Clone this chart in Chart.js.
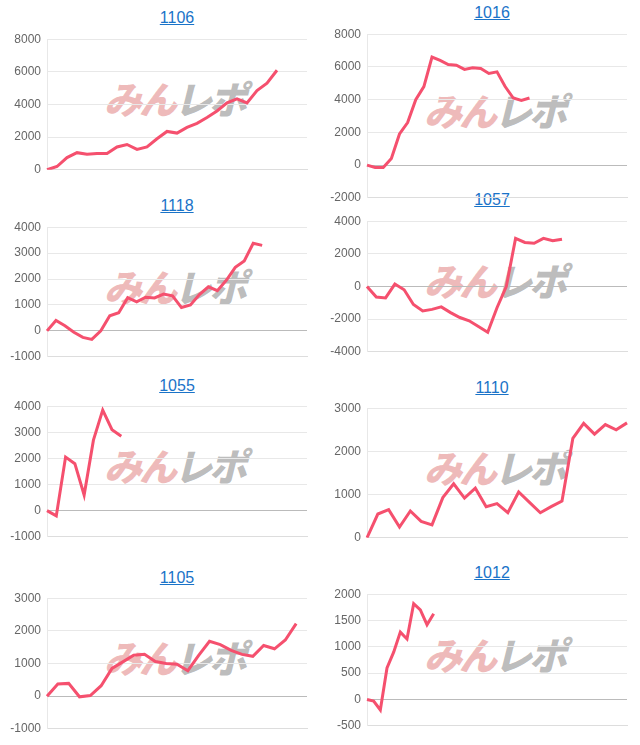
<!DOCTYPE html>
<html><head><meta charset="utf-8">
<script src="https://cdn.jsdelivr.net/npm/chart.js@4"></script>
<style>
body{margin:0;background:#fff;width:640px;height:745px;position:relative;font-family:"Liberation Sans",Arial,sans-serif;overflow:hidden}
.t{position:absolute;width:200px;text-align:center;font-size:16px;color:#1a73c8;text-decoration:underline}
.c{position:absolute}
.wm{position:absolute;font-family:"Noto Sans CJK JP";font-weight:900;font-size:38px;letter-spacing:-3px;white-space:nowrap;transform:skewX(-14deg);z-index:0}
.wm .a{color:rgba(228,140,140,0.6)}.wm .b{color:rgba(150,150,150,0.65)}
canvas{position:relative;z-index:1}
</style></head><body>
<script>
const titles=["1106","1016","1118","1057","1055","1110","1105","1012"];
const labelCounts=[27,33,30,29,29,25,25,40];
const v1106=[0,200,750,1050,950,1000,1000,1400,1550,1250,1400,1900,2350,2250,2600,2850,3200,3600,4100,4350,4100,4850,5300,6100];
const v1016=[0,-150,-150,400,1900,2600,4000,4800,6600,6400,6150,6100,5850,5950,5900,5600,5700,4800,4100,3950,4100];
const v1118=[0,400,200,-50,-250,-330,0,580,700,1280,1120,1300,1270,1420,1350,900,1000,1400,1700,1550,1950,2450,2700,3380,3300];
const v1057=[0,-650,-700,150,-200,-1100,-1500,-1400,-1250,-1600,-1900,-2100,-2450,-2800,-1300,0,2950,2700,2650,2950,2800,2900];
const v1055=[0,-200,2050,1800,600,2700,3850,3100,2850];
const v1110=[0,550,650,250,620,380,300,930,1250,920,1150,720,790,580,1060,820,580,720,850,2300,2650,2400,2620,2500,2660];
const v1105=[0,370,390,-20,20,320,850,1050,1250,1280,1060,1000,980,780,1250,1680,1580,1400,1280,1220,1550,1450,1720,2220];
const v1012=[0,-30,-200,600,900,1280,1150,1820,1700,1420,1630];
const series=[v1106,v1016,v1118,v1057,v1055,v1110,v1105,v1012];
const yMin=[0,-2000,-1000,-4000,-1000,0,-1000,-500];
const yMax=[8000,8000,4000,4000,4000,3000,3000,2000];
const ySteps=[2000,2000,1000,2000,1000,1000,1000,500];
const titleY=[9,4,197,191,377,379,569,564];
const topY=[38,33,226,220,405,407,597,593];
const botY=[168,196,355,350,535,536,727,724];

series.forEach((vals,i)=>{
  const col=i%2, left=col*320;
  const t=document.createElement('div');t.className='t';t.style.left=((col?492:177)-100)+'px';t.style.top=titleY[i]+'px';t.textContent=titles[i];document.body.appendChild(t);
  const wm=document.createElement('div');wm.className='wm';wm.innerHTML='<span class="a">みん</span><span class="b">レポ</span>';
  wm.style.left=(left+108)+'px';wm.style.top=((topY[i]+botY[i])/2-33)+'px';document.body.appendChild(wm);
  const d=document.createElement('div');d.className='c';d.style.left=left+'px';d.style.top=(topY[i]-12)+'px';
  d.style.width='315px';d.style.height=(botY[i]-topY[i]+27)+'px';
  const cv=document.createElement('canvas');d.appendChild(cv);document.body.appendChild(d);
  const labels=Array.from({length:labelCounts[i]},(_,k)=>String(k+1));
  new Chart(cv,{type:'line',data:{labels,datasets:[{data:vals,borderColor:'#f5506e',borderWidth:3,pointRadius:0,tension:0,fill:false}]},
   options:{responsive:true,maintainAspectRatio:false,animation:false,
    layout:{padding:{top:0,bottom:0,right:8,left:0}},
    plugins:{legend:{display:false},tooltip:{enabled:false}},
    scales:{x:{ticks:{display:false},grid:{display:false},border:{color:'#ddd'},afterFit:s=>{s.height=0;}},
     y:{min:yMin[i],max:yMax[i],ticks:{stepSize:ySteps[i],color:'#666',font:{size:12,family:'Liberation Sans'},padding:6,callback:v=>String(v)},
      afterFit:s=>{s.width=47;},
      grid:{color:c=>c.tick&&c.tick.value===0?'#bbb':'#e8e8e8',drawTicks:false},border:{display:true,color:'#e8e8e8'}}}}});
});
</script>
</body></html>
